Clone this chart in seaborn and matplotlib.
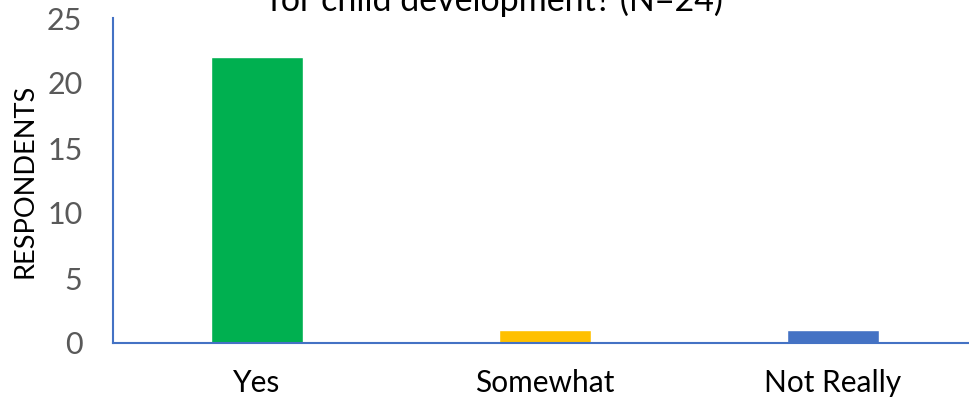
import matplotlib
matplotlib.use("Agg")
import matplotlib.pyplot as plt
import seaborn as sns
import pandas as pd

# Survey responses
categories = ["Yes", "Somewhat", "Not Really"]
respondents = [22, 1, 1]
bar_colors = ["#00B050", "#FFC000", "#4472C4"]
y_ticks = [0, 5, 10, 15, 20, 25]
title_line = "for child development? (N=24)"

sns.set_theme(style="white")
plt.rcParams["font.family"] = ["Lato", "DejaVu Sans"]

df = pd.DataFrame({"answer": categories, "count": respondents})

fig = plt.figure(figsize=(9.69, 4.01), dpi=100)
ax = fig.add_axes([113 / 969, 58 / 401, 864 / 969, 325 / 401])

sns.barplot(data=df, x="answer", y="count", hue="answer",
            palette=dict(zip(categories, bar_colors)), width=0.316,
            legend=False, ax=ax, saturation=1)

ax.set_xlim(-0.5, 2.5)
ax.set_ylim(0, 25)
ax.set_yticks(y_ticks)
ax.set_yticklabels([str(t) for t in y_ticks])
ax.tick_params(axis="y", length=0, pad=22, labelsize=22, labelcolor="#595959")
ax.tick_params(axis="x", length=0, pad=19, labelsize=21.5, labelcolor="#000000")
ax.set_xlabel("")
ax.set_ylabel("RESPONDENTS", fontsize=19.5, color="#000000", labelpad=7)

for side in ("top", "right"):
    ax.spines[side].set_visible(False)
for side in ("left", "bottom"):
    ax.spines[side].set_color("#4472C4")
    ax.spines[side].set_linewidth(1.5)

fig.text(0.512, 1 - 11 / 401, title_line, ha="center", va="baseline",
         fontsize=24.5, color="#000000")

fig.savefig("out.png", dpi=100)
